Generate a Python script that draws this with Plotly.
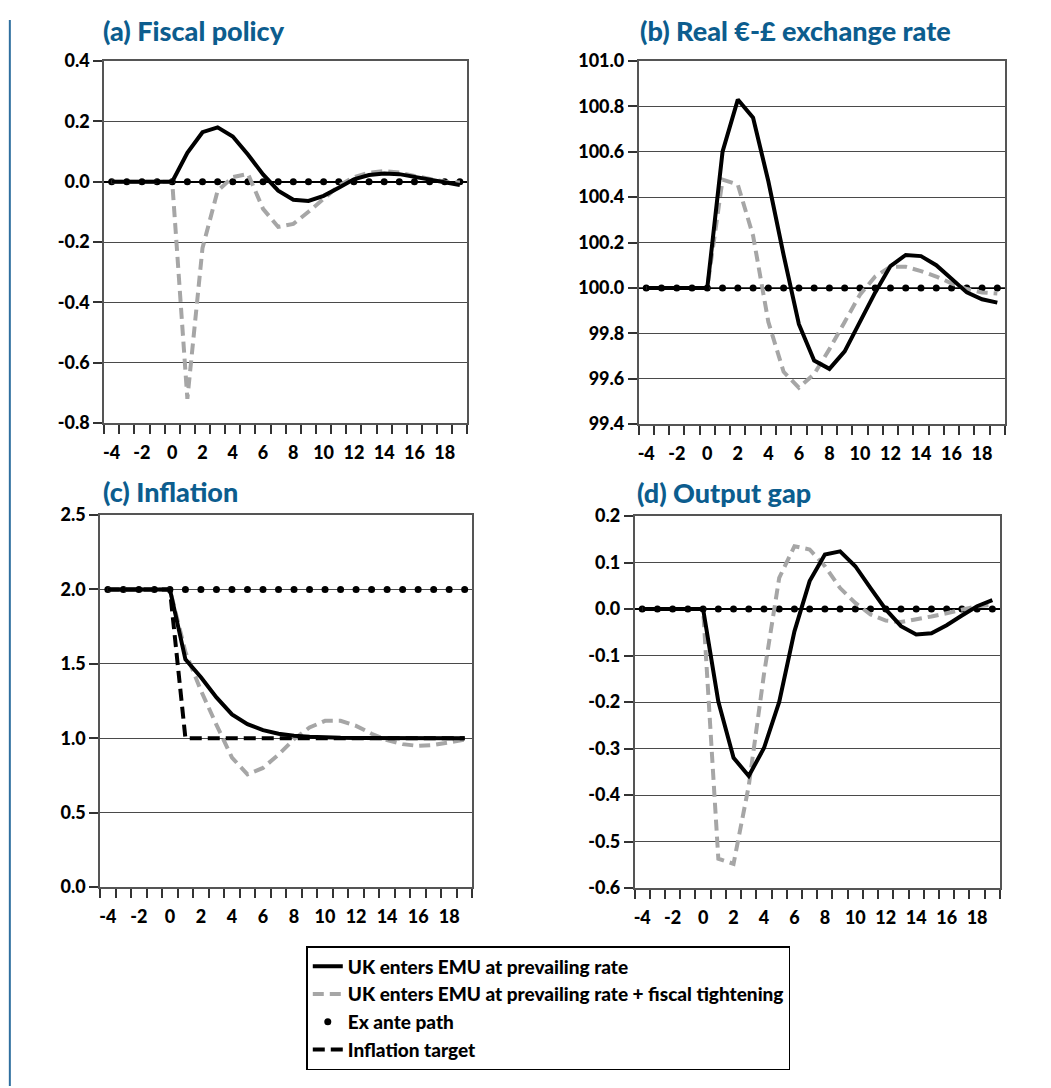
import plotly.graph_objects as go

W, H = 1051, 1088
# observed page placement of the figure (offset and rendered scale), calibrated from test renders
OFF_X, OFF_Y, REND_W, REND_H = 8, 19, 1049, 1066

periods = [-4, -3, -2, -1, 0, 1, 2, 3, 4, 5, 6, 7, 8, 9, 10, 11, 12, 13, 14, 15, 16, 17, 18, 19]
x_tick_vals = [-4, -2, 0, 2, 4, 6, 8, 10, 12, 14, 16, 18]
x_tick_text = ["-4", "-2", "0", "2", "4", "6", "8", "10", "12", "14", "16", "18"]

# (a) Fiscal policy
fiscal_prevailing = [0, 0, 0, 0, 0, 0.096, 0.164, 0.180, 0.150, 0.090, 0.024, -0.030, -0.060, -0.064,
                     -0.047, -0.020, 0.008, 0.022, 0.027, 0.025, 0.016, 0.008, -0.003, -0.011]
fiscal_tightening = [0, 0, 0, 0, 0, -0.72, -0.22, -0.03, 0.015, 0.026, -0.09, -0.15, -0.14, -0.10,
                     -0.058, -0.014, 0.015, 0.030, 0.035, 0.030, 0.019, 0.008, 0.0, -0.003]
fiscal_exante = [0, 0, 0, 0, 0, 0, 0, 0, 0, 0, 0, 0, 0, 0, 0, 0, 0, 0, 0, 0, 0, 0, 0, 0]
fiscal_ticks = [-0.8, -0.6, -0.4, -0.2, 0.0, 0.2, 0.4]
fiscal_tick_text = ["-0.8", "-0.6", "-0.4", "-0.2", "0.0", "0.2", "0.4"]

# (b) Real euro-sterling exchange rate
fx_prevailing = [100, 100, 100, 100, 100, 100.60, 100.83, 100.75, 100.47, 100.145, 99.84, 99.68, 99.643,
                 99.72, 99.85, 99.98, 100.096, 100.145, 100.14, 100.10, 100.04, 99.98, 99.95, 99.935]
fx_tightening = [100, 100, 100, 100, 100, 100.477, 100.455, 100.23, 99.85, 99.63, 99.56, 99.62, 99.73,
                 99.85, 99.97, 100.05, 100.093, 100.093, 100.074, 100.05, 100.02, 99.995, 99.98, 99.975]
fx_exante = [100, 100, 100, 100, 100, 100, 100, 100, 100, 100, 100, 100, 100, 100, 100, 100, 100, 100,
             100, 100, 100, 100, 100, 100]
fx_ticks = [99.4, 99.6, 99.8, 100.0, 100.2, 100.4, 100.6, 100.8, 101.0]
fx_tick_text = ["99.4", "99.6", "99.8", "100.0", "100.2", "100.4", "100.6", "100.8", "101.0"]

# (c) Inflation
infl_prevailing = [2.0, 2.0, 2.0, 2.0, 2.0, 1.53, 1.41, 1.274, 1.16, 1.094, 1.054, 1.03, 1.016, 1.01,
                   1.005, 1.003, 1.002, 1.001, 1.0, 1.0, 1.0, 1.0, 1.0, 1.0]
infl_tightening = [2.0, 2.0, 2.0, 2.0, 2.0, 1.58, 1.32, 1.09, 0.87, 0.757, 0.80, 0.89, 0.993, 1.072,
                   1.117, 1.117, 1.083, 1.03, 0.987, 0.96, 0.948, 0.955, 0.97, 0.99]
infl_target = [2.0, 2.0, 2.0, 2.0, 2.0, 1.0, 1.0, 1.0, 1.0, 1.0, 1.0, 1.0, 1.0, 1.0, 1.0, 1.0, 1.0,
               1.0, 1.0, 1.0, 1.0, 1.0, 1.0, 1.0]
infl_exante = [2.0, 2.0, 2.0, 2.0, 2.0, 2.0, 2.0, 2.0, 2.0, 2.0, 2.0, 2.0, 2.0, 2.0, 2.0, 2.0, 2.0,
               2.0, 2.0, 2.0, 2.0, 2.0, 2.0, 2.0]
infl_ticks = [0.0, 0.5, 1.0, 1.5, 2.0, 2.5]
infl_tick_text = ["0.0", "0.5", "1.0", "1.5", "2.0", "2.5"]

# (d) Output gap
gap_prevailing = [0, 0, 0, 0, 0, -0.199, -0.32, -0.359, -0.299, -0.2, -0.048, 0.06, 0.117, 0.124,
                  0.092, 0.045, -0.001, -0.037, -0.055, -0.052, -0.035, -0.014, 0.006, 0.019]
gap_tightening = [0, 0, 0, 0, 0, -0.537, -0.548, -0.38, -0.14, 0.067, 0.135, 0.128, 0.092, 0.045,
                  0.013, -0.012, -0.025, -0.028, -0.023, -0.016, -0.009, -0.001, 0.006, 0.009]
gap_exante = [0, 0, 0, 0, 0, 0, 0, 0, 0, 0, 0, 0, 0, 0, 0, 0, 0, 0, 0, 0, 0, 0, 0, 0]
gap_ticks = [-0.6, -0.5, -0.4, -0.3, -0.2, -0.1, 0.0, 0.1, 0.2]
gap_tick_text = ["-0.6", "-0.5", "-0.4", "-0.3", "-0.2", "-0.1", "0.0", "0.1", "0.2"]

titles = ["(a) Fiscal policy", "(b) Real €-£ exchange rate", "(c) Inflation", "(d) Output gap"]
legend_names = ["UK enters EMU at prevailing rate",
                "UK enters EMU at prevailing rate + fiscal tightening",
                "Ex ante path", "Inflation target"]

FONT = "Lato"
TITLE_BLUE = "#0c5d8e"
GRAY = "#a6a6a6"
BOLD = 900


def px_x(X):
    return (X - OFF_X) / REND_W


def px_y(Y):
    return 1 - (Y - OFF_Y) / REND_H


# target screen pixel boxes of plot areas: (left, right, top, bottom)
boxes = [(103, 466, 60, 422), (637, 1003, 60, 423), (99, 471, 514, 886), (633, 998, 515, 887)]
yranges = [(-0.8, 0.4), (99.4, 101.0), (0.0, 2.5), (-0.6, 0.2)]
yticks = [(fiscal_ticks, fiscal_tick_text), (fx_ticks, fx_tick_text),
          (infl_ticks, infl_tick_text), (gap_ticks, gap_tick_text)]
title_pos = [(100, 29), (636, 29), (100, 490), (633, 492)]

panels = [
    (fiscal_prevailing, fiscal_tightening, fiscal_exante, None),
    (fx_prevailing, fx_tightening, fx_exante, None),
    (infl_prevailing, infl_tightening, infl_exante, infl_target),
    (gap_prevailing, gap_tightening, gap_exante, None),
]

fig = go.Figure()
layout = {}
annotations = []
shapes = []

for i, (prev, tight, exante, target) in enumerate(panels):
    suf = "" if i == 0 else str(i + 1)
    xa, ya = "x" + suf, "y" + suf
    first = i == 0
    fig.add_trace(go.Scatter(x=periods, y=exante, xaxis=xa, yaxis=ya, mode="markers",
                             marker=dict(color="black", size=7), name=legend_names[2],
                             showlegend=first, legendrank=3))
    fig.add_trace(go.Scatter(x=periods, y=tight, xaxis=xa, yaxis=ya, mode="lines",
                             line=dict(color=GRAY, width=4, dash="11px,6px"), name=legend_names[1],
                             showlegend=first, legendrank=2))
    fig.add_trace(go.Scatter(x=periods, y=prev, xaxis=xa, yaxis=ya, mode="lines",
                             line=dict(color="black", width=4), name=legend_names[0],
                             showlegend=first, legendrank=1))
    if target is not None:
        fig.add_trace(go.Scatter(x=periods, y=target, xaxis=xa, yaxis=ya, mode="lines",
                                 line=dict(color="black", width=4, dash="12px,6px"), name=legend_names[3],
                                 showlegend=True, legendrank=4))

    l, r, t, b = boxes[i]
    y0, y1 = yranges[i]
    tv, tt = yticks[i]
    layout["xaxis" + suf] = dict(
        domain=[px_x(l), px_x(r)], anchor=ya, range=[-4.5, 19.5],
        tickmode="array", tickvals=x_tick_vals, ticktext=x_tick_text,
        ticks="outside", ticklen=13, tickcolor="rgba(0,0,0,0)",
        minor=dict(tickmode="linear", tick0=-4.5, dtick=1, ticks="outside", ticklen=9,
                   tickcolor="#333333", tickwidth=1.5, showgrid=False),
        showgrid=False, zeroline=False, showline=True, mirror=True, linecolor="#555555", linewidth=1.5,
        tickfont=dict(family=FONT, size=18, color="black", weight=BOLD), fixedrange=True,
    )
    layout["yaxis" + suf] = dict(
        domain=[px_y(b), px_y(t)], anchor=xa, range=[y0, y1],
        tickmode="array", tickvals=tv, ticktext=tt,
        ticks="outside", ticklen=9, tickcolor="#333333", tickwidth=1.5,
        showgrid=True, gridcolor="#4a4a4a", gridwidth=1,
        zeroline=(i in (0, 3)), zerolinecolor="black", zerolinewidth=2,
        showline=True, mirror=True, linecolor="#555555", linewidth=1.5,
        tickfont=dict(family=FONT, size=18, color="black", weight=BOLD), fixedrange=True,
    )
    tx, ty = title_pos[i]
    annotations.append(dict(text=titles[i], xref="paper", yref="paper", x=px_x(tx), y=px_y(ty),
                            xanchor="left", yanchor="middle", showarrow=False,
                            font=dict(family=FONT, size=27, color=TITLE_BLUE, weight=BOLD)))

# exchange-rate baseline axis line at 100
shapes.append(dict(type="line", xref="x2 domain", yref="y2", x0=0, x1=1,
                   y0=fx_exante[0], y1=fx_exante[0], line=dict(color="black", width=2), layer="below"))
# blue page rule at left edge
shapes.append(dict(type="line", xref="paper", yref="paper", x0=0.0008, x1=0.0008, y0=0, y1=1,
                   line=dict(color="#2f6f9f", width=2)))

fig.update_layout(
    width=W, height=H, margin=dict(l=0, r=0, t=0, b=0),
    paper_bgcolor="white", plot_bgcolor="white",
    annotations=annotations, shapes=shapes,
    legend=dict(x=px_x(305), y=px_y(945), xanchor="left", yanchor="top",
                bordercolor="black", borderwidth=1.5, bgcolor="white",
                font=dict(family=FONT, size=19, color="black", weight=BOLD),
                itemwidth=30, tracegroupgap=0),
    showlegend=True,
    **layout,
)

fig.write_html("out.html")
